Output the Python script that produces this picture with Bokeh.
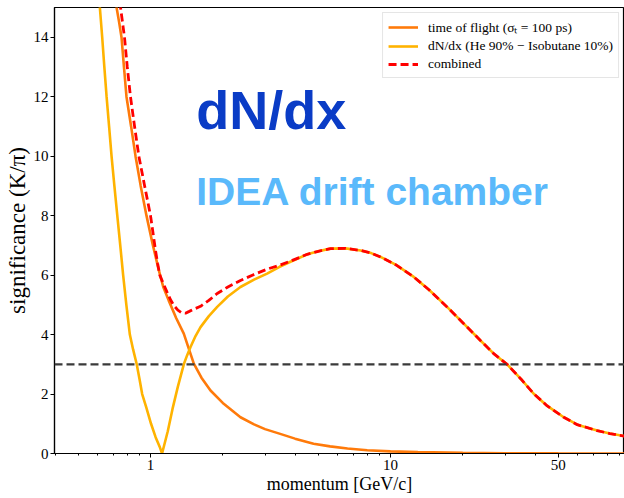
from bokeh.plotting import figure
from bokeh.models import Span, Label, Legend, LegendItem, FixedTicker, Range1d
from bokeh.embed import file_html
from bokeh.resources import INLINE

# ---- data ----
tof_p = [0.70, 0.722, 0.74, 0.757, 0.775, 0.794, 0.83, 0.866, 0.91, 0.962, 1.02,
         1.08, 1.13, 1.19, 1.28, 1.376, 1.44, 1.515, 1.63, 1.778, 2.0, 2.37, 2.7,
         3.0, 3.47, 4.0, 4.78, 5.6, 6.62, 8.0, 10.0, 13.0, 20.0, 30.0, 50.0, 95.0]
tof_v = [16.2, 15.0, 14.5, 14.0, 13.0, 12.0, 11.0, 10.0, 9.0, 8.0, 7.05,
         6.2, 5.6, 5.15, 4.55, 4.03, 3.55, 3.02, 2.55, 2.12, 1.7, 1.22, 0.98,
         0.82, 0.66, 0.5, 0.33, 0.24, 0.17, 0.11, 0.07, 0.045, 0.02, 0.01, 0.005, 0.002]

dndx_p = [0.60, 0.615, 0.629, 0.642, 0.656, 0.672, 0.688, 0.707, 0.727, 0.748, 0.769,
          0.793, 0.820, 0.846, 0.876, 0.90, 0.923, 0.96, 1.005, 1.05, 1.095, 1.117,
          1.18, 1.235, 1.30, 1.376, 1.42, 1.468, 1.54, 1.616, 1.75, 1.896, 2.1,
          2.37, 2.7, 3.06, 3.45, 3.83, 4.5, 5.0, 5.62, 6.5, 7.5, 8.3, 9.09, 10.5,
          12.5, 14.5, 17.2, 20.0, 23.7, 27.0, 30.6, 35.0, 39.5, 45.0, 52.7, 60.0,
          72.6, 82.0, 95.0]
dndx_v = [16.0, 15.0, 14.0, 13.0, 12.0, 11.0, 10.0, 9.0, 8.0, 7.0, 6.0,
          5.0, 4.0, 3.5, 3.0, 2.5, 2.0, 1.55, 1.0, 0.55, 0.2, 0.0,
          0.75, 1.5, 2.25, 3.0, 3.3, 3.58, 3.95, 4.25, 4.62, 4.93, 5.28,
          5.6, 5.85, 6.05, 6.28, 6.45, 6.7, 6.8, 6.89, 6.9, 6.83, 6.74, 6.61, 6.35,
          5.94, 5.5, 4.93, 4.4, 3.80, 3.35, 3.0, 2.5, 2.01, 1.6, 1.22, 0.97,
          0.77, 0.67, 0.58]

comb_p = [0.74, 0.75, 0.779, 0.80, 0.825, 0.858, 0.894, 0.945, 1.0, 1.025, 1.049,
          1.07, 1.093, 1.13, 1.173, 1.21, 1.25, 1.30, 1.35, 1.399, 1.45, 1.52,
          1.616, 1.75, 1.896, 2.1, 2.37, 2.7, 3.06, 3.45, 3.83, 4.5, 5.0, 5.62,
          6.5, 7.5, 8.3, 9.09, 10.5, 12.5, 14.5, 17.2, 20.0, 23.7, 27.0, 30.6,
          35.0, 39.5, 45.0, 52.7, 60.0, 72.6, 82.0, 95.0]
comb_v = [15.6, 15.0, 14.0, 13.0, 12.0, 11.0, 10.0, 9.0, 8.0, 7.4, 6.83,
          6.4, 6.0, 5.72, 5.42, 5.18, 4.98, 4.82, 4.73, 4.72, 4.78, 4.86,
          4.95, 5.15, 5.38, 5.6, 5.82, 6.02, 6.2, 6.33, 6.47, 6.7, 6.8, 6.89,
          6.9, 6.83, 6.74, 6.61, 6.35, 5.94, 5.5, 4.93, 4.4, 3.80, 3.35, 3.0,
          2.5, 2.01, 1.6, 1.22, 0.97, 0.77, 0.67, 0.58]

threshold = 3.0
x_major = [1, 10, 50]
x_minor = [0.4, 0.5, 0.6, 0.7, 0.8, 0.9, 2, 3, 4, 5, 6, 7, 8, 9,
           20, 30, 40, 60, 70, 80, 90]
y_ticks = [0, 2, 4, 6, 8, 10, 12, 14]

labels = ["time of flight (\u03c3\u209c = 100 ps)",
          "dN/dx (He 90% \u2212 Isobutane 10%)",
          "combined"]

SERIF = "Liberation Serif"

p = figure(width=624, height=498, x_axis_type="log",
           x_range=Range1d(0.398, 94.4), y_range=Range1d(0, 15),
           output_backend="svg", toolbar_location=None,
           min_border_left=54, min_border_bottom=45, min_border_top=7,
           min_border_right=0)

p.background_fill_color = "white"
p.border_fill_color = "white"
p.outline_line_color = "black"
p.outline_line_width = 1.2
p.xgrid.visible = False
p.ygrid.visible = False

r_tof = p.line(tof_p, tof_v, line_color="#FF7A0A", line_width=2.6)
r_dndx = p.line(dndx_p, dndx_v, line_color="#FFB300", line_width=2.6)
r_comb = p.line(comb_p, comb_v, line_color="#FF0000", line_width=2.8,
                line_dash="8 4")

p.add_layout(Span(location=threshold, dimension="width", line_color="#3a3a3a",
                  line_width=2.2, line_dash="8 4"))

p.xaxis.ticker = FixedTicker(ticks=x_major, minor_ticks=x_minor)
p.xaxis.major_label_overrides = {1: "1", 10: "10", 50: "50"}
p.yaxis.ticker = FixedTicker(ticks=y_ticks)

for ax in (p.xaxis, p.yaxis):
    ax.axis_line_color = "black"
    ax.axis_line_width = 1.2
    ax.major_tick_in = 0
    ax.major_tick_out = 4
    ax.minor_tick_in = 0
    ax.minor_tick_out = 2
    ax.major_tick_line_color = "black"
    ax.minor_tick_line_color = "black"
    ax.major_label_text_font = SERIF
    ax.major_label_text_font_size = "15px"
    ax.major_label_text_color = "black"
    ax.major_label_standoff = 2
    ax.axis_label_text_font = SERIF
    ax.axis_label_text_font_style = "normal"
    ax.axis_label_text_color = "black"
    ax.axis_label_standoff = 1

p.xaxis.axis_label = "momentum [GeV/c]"
p.xaxis.axis_label_text_font_size = "18px"
p.xaxis.major_label_standoff = 2
p.xaxis.axis_label_standoff = 1
p.yaxis.axis_label = "significance (K/\u03c0)"
p.yaxis.axis_label_text_font_size = "23px"
p.yaxis.minor_tick_out = 0

legend = Legend(items=[LegendItem(label=labels[0], renderers=[r_tof]),
                       LegendItem(label=labels[1], renderers=[r_dndx]),
                       LegendItem(label=labels[2], renderers=[r_comb])],
                location="top_right")
legend.label_text_font = SERIF
legend.label_text_font_size = "13.5px"
legend.label_text_color = "black"
legend.glyph_width = 30
legend.glyph_height = 14
legend.label_height = 14
legend.spacing = 2
legend.padding = 5
legend.margin = 5
legend.label_standoff = 10
legend.border_line_color = "#cccccc"
legend.border_line_width = 1
legend.background_fill_alpha = 1.0
p.add_layout(legend)

p.add_layout(Label(x=1.55, y=11.55, text="dN/dx", text_font="Liberation Sans",
                   text_font_style="bold", text_font_size="54px",
                   text_color="#0a3cc6", text_baseline="alphabetic"))
p.add_layout(Label(x=1.55, y=8.82, text="IDEA drift chamber",
                   text_font="Liberation Sans", text_font_style="bold",
                   text_font_size="39px", text_color="#5ab9fb",
                   text_baseline="alphabetic"))

open("out.html", "w").write(file_html(p, INLINE))
